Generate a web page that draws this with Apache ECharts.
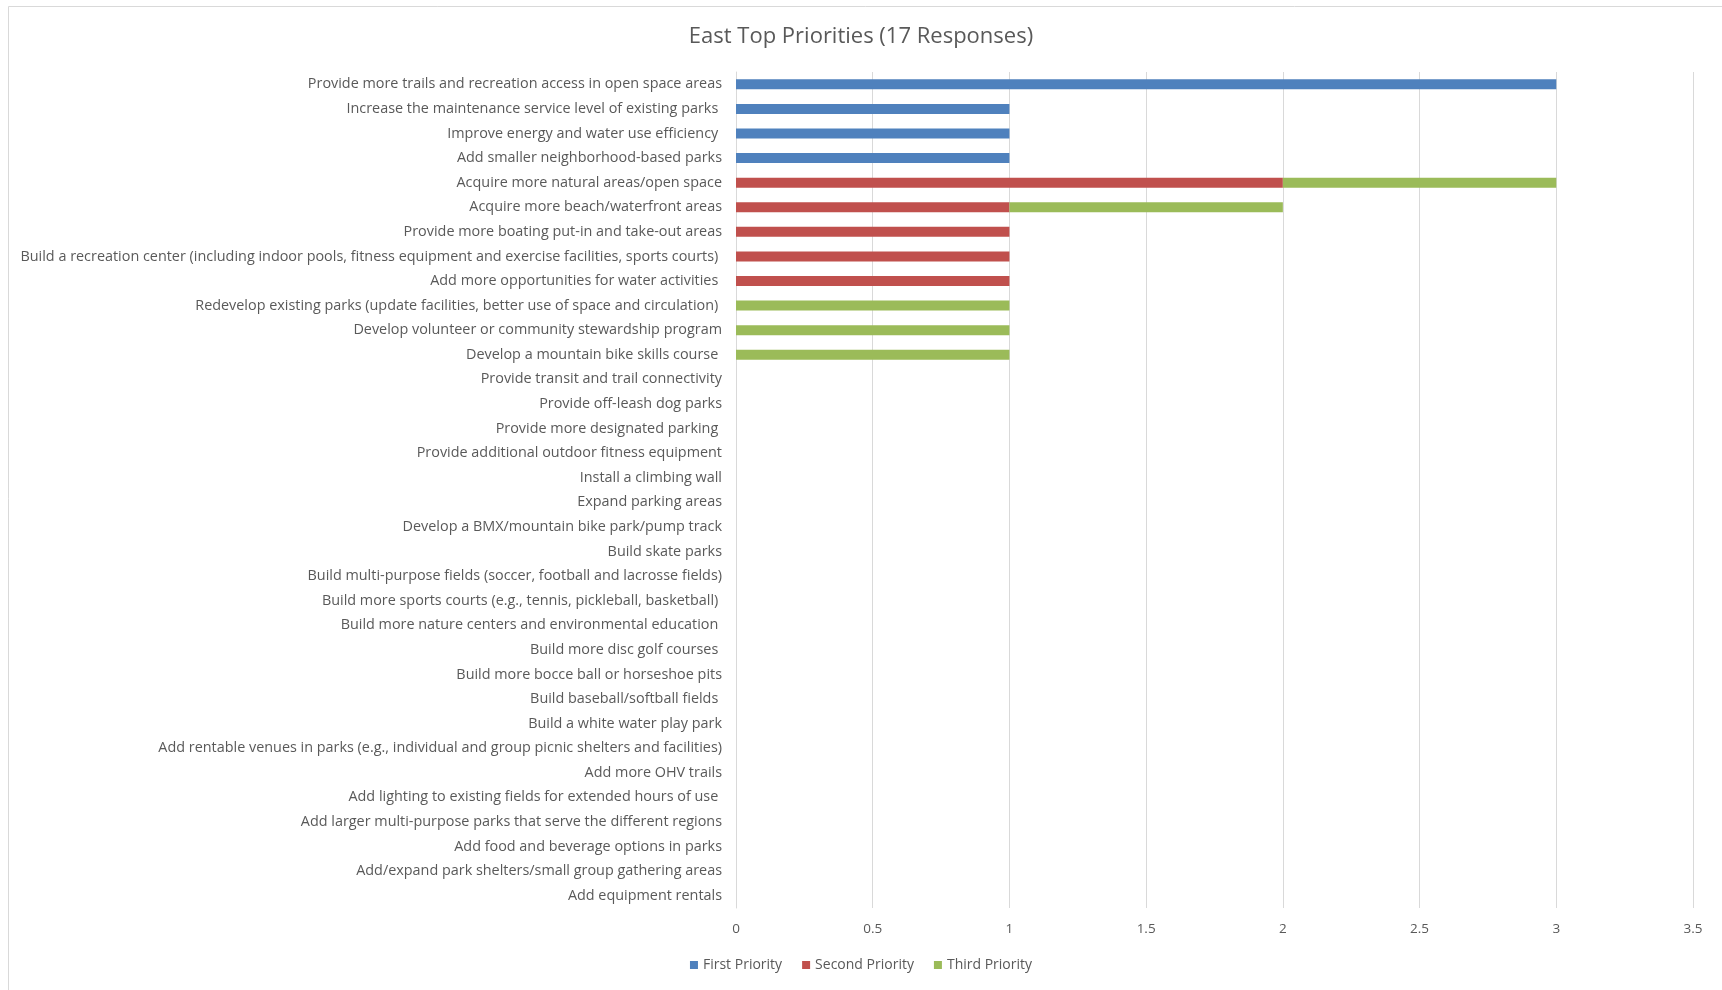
<!DOCTYPE html>
<html>
<head>
<meta charset="utf-8">
<script src="https://cdn.jsdelivr.net/npm/echarts@6/dist/echarts.min.js"></script>
<style>
html,body{margin:0;padding:0;background:#fff;}
#chart{width:1722px;height:990px;}
</style>
</head>
<body>
<div id="chart"></div>
<script>
const titleText = 'East Top Priorities (17 Responses)';
const categories = [
  'Provide more trails and recreation access in open space areas',
  'Increase the maintenance service level of existing parks ',
  'Improve energy and water use efficiency ',
  'Add smaller neighborhood-based parks',
  'Acquire more natural areas/open space',
  'Acquire more beach/waterfront areas',
  'Provide more boating put-in and take-out areas',
  'Build a recreation center (including indoor pools, fitness equipment and exercise facilities, sports courts) ',
  'Add more opportunities for water activities ',
  'Redevelop existing parks (update facilities, better use of space and circulation) ',
  'Develop volunteer or community stewardship program',
  'Develop a mountain bike skills course ',
  'Provide transit and trail connectivity',
  'Provide off-leash dog parks',
  'Provide more designated parking ',
  'Provide additional outdoor fitness equipment',
  'Install a climbing wall',
  'Expand parking areas',
  'Develop a BMX/mountain bike park/pump track',
  'Build skate parks',
  'Build multi-purpose fields (soccer, football and lacrosse fields)',
  'Build more sports courts (e.g., tennis, pickleball, basketball) ',
  'Build more nature centers and environmental education ',
  'Build more disc golf courses ',
  'Build more bocce ball or horseshoe pits',
  'Build baseball/softball fields ',
  'Build a white water play park',
  'Add rentable venues in parks (e.g., individual and group picnic shelters and facilities)',
  'Add more OHV trails',
  'Add lighting to existing fields for extended hours of use ',
  'Add larger multi-purpose parks that serve the different regions',
  'Add food and beverage options in parks',
  'Add/expand park shelters/small group gathering areas',
  'Add equipment rentals'
];
const seriesNames = ['First Priority', 'Second Priority', 'Third Priority'];
const firstPriority  = [3,1,1,1,0,0,0,0,0,0,0,0,0,0,0,0,0,0,0,0,0,0,0,0,0,0,0,0,0,0,0,0,0,0];
const secondPriority = [0,0,0,0,2,1,1,1,1,0,0,0,0,0,0,0,0,0,0,0,0,0,0,0,0,0,0,0,0,0,0,0,0,0];
const thirdPriority  = [0,0,0,0,1,1,0,0,0,1,1,1,0,0,0,0,0,0,0,0,0,0,0,0,0,0,0,0,0,0,0,0,0,0];
const colors = ['#4F81BD', '#C0504D', '#9BBB59'];

const chart = echarts.init(document.getElementById('chart'), null, {renderer: 'canvas'});
const font = 'Open Sans';
const seriesData = [firstPriority, secondPriority, thirdPriority];
chart.setOption({
  animation: false,
  backgroundColor: '#fff',
  color: colors,
  title: {
    text: titleText, left: 'center', top: 21,
    textStyle: {fontFamily: font, fontSize: 22, fontWeight: 'normal', color: '#595959'}
  },
  legend: {
    data: seriesNames, bottom: 13, left: 'center',
    icon: 'rect', itemWidth: 8, itemHeight: 8, itemGap: 20,
    textStyle: {fontFamily: font, fontSize: 14, color: '#595959'}
  },
  grid: {left: 736, right: 29, top: 72, bottom: 82, containLabel: false},
  xAxis: {
    type: 'value', min: 0, max: 3.5, interval: 0.5,
    axisLine: {show: false}, axisTick: {show: false},
    splitLine: {show: true, lineStyle: {color: '#D9D9D9', width: 1}},
    axisLabel: {fontFamily: font, fontSize: 13.5, color: '#595959', margin: 14}
  },
  yAxis: {
    type: 'category', data: categories, inverse: true,
    axisLine: {show: true, lineStyle: {color: '#D9D9D9'}}, axisTick: {show: false},
    axisLabel: {fontFamily: font, fontSize: 14.4, color: '#595959', margin: 14, interval: 0}
  },
  series: seriesData.map((d, i) => ({
    name: seriesNames[i], type: 'bar', stack: 'total', data: d,
    barWidth: 10, itemStyle: {color: colors[i]}
  })),
  graphic: [{
    type: 'rect', shape: {x: 8.5, y: 6.5, width: 1740, height: 1000},
    style: {fill: null, stroke: '#D9D9D9', lineWidth: 1}, silent: true, z: -1
  }]
});
</script>
</body>
</html>
